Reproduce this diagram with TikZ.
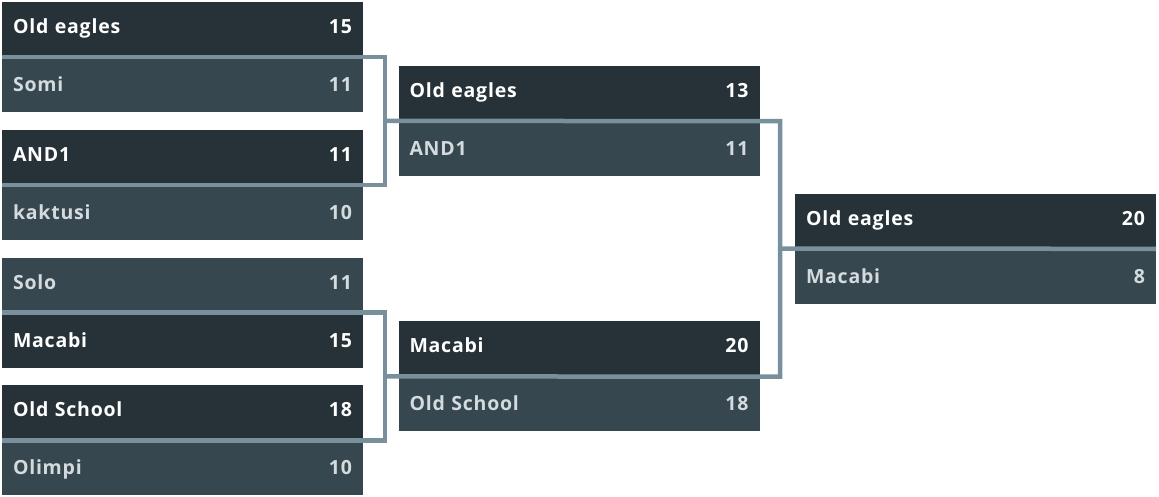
\documentclass[tikz,border=0pt]{standalone}
\usepackage{fontspec}
\setmainfont{Open Sans}[LetterSpace=4]
\definecolor{rowdark}{HTML}{263238}
\definecolor{rowmid}{HTML}{37474F}
\definecolor{bracket}{HTML}{78909C}
\definecolor{pale}{HTML}{D3DBDF}
\begin{document}
\begin{tikzpicture}[x=1pt,y=-1pt,
	row/.style={text width=339pt,inner xsep=11pt,inner ysep=0pt,minimum height=55pt,
		font=\bfseries\fontsize{19.5}{19.5}\selectfont},
	upper/.style={text height=13pt,text depth=5pt},
	lower/.style={text height=14pt,text depth=0pt},
	win/.style={row,fill=rowdark,text=white},
	lose/.style={row,fill=rowmid,text=pale},
	link/.style={draw=bracket,line width=4.5pt}]
	\useasboundingbox (0,0) rectangle (1159,496);
	% first round
	\node[win,upper] (r1a) at (182.5,29.5) {Old eagles\hfill 15};
	\node[lose,lower] (r1b) at (182.5,84.5) {Somi\hfill 11};
	\node[win,upper] (r2a) at (182.5,157.25) {AND1\hfill 11};
	\node[lose,lower] (r2b) at (182.5,212.25) {kaktusi\hfill 10};
	\node[lose,upper] (r3a) at (182.5,285) {Solo\hfill 11};
	\node[win,lower] (r3b) at (182.5,340) {Macabi\hfill 15};
	\node[win,upper] (r4a) at (182.5,412.75) {Old School\hfill 18};
	\node[lose,lower] (r4b) at (182.5,467.75) {Olimpi\hfill 10};
	% semi finals
	\node[win,upper] (r5a) at (579,93.4) {Old eagles\hfill 13};
	\node[lose,lower] (r5b) at (579,148.4) {AND1\hfill 11};
	\node[win,upper] (r6a) at (579,348.9) {Macabi\hfill 20};
	\node[lose,lower] (r6b) at (579,403.9) {Old School\hfill 18};
	% final
	\node[win,upper] (r7a) at (975.5,221.1) {Old eagles\hfill 20};
	\node[lose,lower] (r7b) at (975.5,276.1) {Macabi\hfill 8};
	
	\coordinate (j1) at (385,120.9);
	\coordinate (j2) at (385,376.4);
	\coordinate (j3) at (780,248.6);
	
	\draw[link] (r1a.south west) -| (j1) |- (r2a.south west);
	\draw[link] (r3a.south west) -| (j2) |- (r4a.south west);
	\draw[link] (j1) -- (r5a.south east) -| (j3) |- (r6a.south east) -- (j2);
	\draw[link] (j3) -- (r7a.south east);
\end{tikzpicture}
\end{document}
